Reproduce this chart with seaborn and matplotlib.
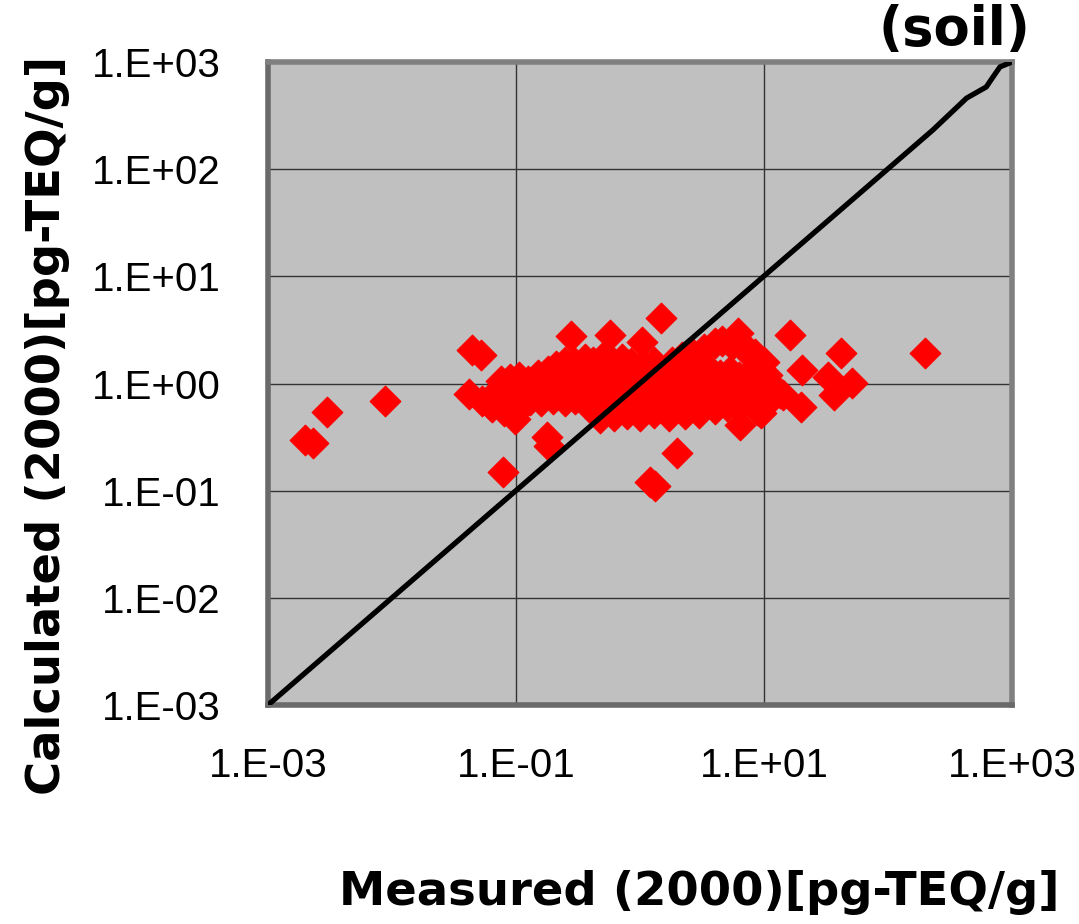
import matplotlib
matplotlib.use('Agg')
import numpy as np
import pandas as pd
import matplotlib.pyplot as plt
import seaborn as sns
from matplotlib import font_manager
from matplotlib.ticker import FixedLocator, FixedFormatter, NullLocator

# measured vs calculated (2000) [pg-TEQ/g]
measured = [
    # scattered points
    0.0020, 0.0023, 0.0030, 0.0088, 0.044, 0.052, 0.042, 0.053, 0.063, 0.078,
    0.178, 0.185, 0.28, 0.57, 1.04, 1.48, 1.20, 1.31, 2.0, 16.2,
    41.8, 20.2, 33, 51, 37, 20, 14.2, 199, 6.4, 8.8,
    13.5, 6.2, 8.0,
    # upper part of the main cloud
    0.21, 0.25, 0.30, 0.36, 0.42, 0.50, 0.60, 0.72, 0.85, 1.05, 1.3,
    1.8, 2.2, 2.7, 3.3, 4.0, 4.6, 5.5, 7.0, 8.5, 10.0,
    # middle
    0.075, 0.09, 0.105, 0.125, 0.15, 0.18, 0.21, 0.25, 0.30, 0.36,
    0.43, 0.52, 0.62, 0.75, 0.9, 1.08, 1.3, 1.55, 1.85, 2.2,
    2.6, 3.1, 3.7, 4.4, 5.3, 6.3, 7.5, 9.0, 10.5,
    0.07, 0.085, 0.10, 0.12, 0.14, 0.17, 0.20, 0.24, 0.28, 0.34,
    0.40, 0.48, 0.58, 0.70, 0.83, 1.0, 1.2, 1.4, 1.7, 2.0,
    2.4, 2.9, 3.5, 4.2, 5.0, 6.0, 7.2, 8.6, 10.0,
    # lower part
    0.064, 0.08, 0.098, 0.11, 0.13, 0.16, 0.20, 0.25, 0.30, 0.36,
    0.44, 0.54, 0.66, 0.80, 1.0, 1.25, 1.6, 2.0, 2.5, 3.2,
    4.0, 5.0, 6.3, 8.0, 9.8,
    0.48, 0.62, 0.78, 1.0, 1.3, 1.7, 2.3, 3.0, 9.5,
]
calculated = [
    0.30, 0.28, 0.54, 0.69, 2.06, 1.85, 0.80, 0.68, 0.62, 0.15,
    0.32, 0.26, 2.78, 2.84, 2.44, 4.09, 0.12, 0.11, 0.225, 2.84,
    1.93, 1.34, 1.15, 1.01, 0.78, 0.60, 0.78, 1.93, 0.41, 0.57,
    0.82, 2.96, 1.77,
    1.45, 1.6, 1.55, 1.7, 1.6, 1.75, 1.6, 1.7, 1.55, 1.5, 1.6,
    1.6, 1.75, 1.9, 2.1, 2.4, 2.5, 2.3, 2.2, 1.9, 1.6,
    1.05, 1.1, 1.15, 1.05, 1.2, 1.3, 1.15, 1.25, 1.1, 1.3,
    1.2, 1.25, 1.1, 1.3, 1.2, 1.25, 1.1, 1.3, 1.2, 1.25,
    1.3, 1.2, 1.35, 1.2, 1.3, 1.15, 1.25, 1.1, 1.2,
    0.85, 0.80, 0.90, 0.82, 0.88, 0.80, 0.90, 0.82, 0.88, 0.80,
    0.90, 0.84, 0.90, 0.80, 0.88, 0.82, 0.90, 0.80, 0.88, 0.80,
    0.90, 0.82, 0.88, 0.80, 0.90, 0.82, 0.88, 0.80, 0.90,
    0.60, 0.55, 0.47, 0.60, 0.70, 0.68, 0.72, 0.68, 0.72, 0.66,
    0.60, 0.65, 0.58, 0.62, 0.58, 0.62, 0.58, 0.62, 0.58, 0.62,
    0.58, 0.62, 0.60, 0.65, 0.60,
    0.48, 0.50, 0.52, 0.50, 0.53, 0.50, 0.52, 0.53, 0.53,
]

# 1:1 line (it wiggles a little near the top end)
line_x = [0.001, 230, 430, 620, 700, 800, 1000]
line_y = [0.001, 232, 460, 585, 720, 900, 1000]

xticks = [1e-3, 1e-1, 1e1, 1e3]
xtick_labels = ['1.E-03', '1.E-01', '1.E+01', '1.E+03']
yticks = [1e-3, 1e-2, 1e-1, 1e0, 1e1, 1e2, 1e3]
ytick_labels = ['1.E-03', '1.E-02', '1.E-01', '1.E+00', '1.E+01', '1.E+02', '1.E+03']

title = '(soil)'
xlabel = 'Measured (2000)[pg-TEQ/g]'
ylabel = 'Calculated (2000)[pg-TEQ/g]'

sns.set_style('white')
plt.rcParams['text.color'] = 'black'
plt.rcParams['axes.labelcolor'] = 'black'

# narrow bold font for the axis titles if we have it
try:
    font_manager.findfont('Liberation Sans Narrow:bold', fallback_to_default=False)
    bold_font, label_size, title_size = 'Liberation Sans Narrow', 48, 52
except ValueError:
    bold_font, label_size, title_size = 'DejaVu Sans', 33.5, 38
tick_font = 'Liberation Sans'

df = pd.DataFrame({'measured': measured, 'calculated': calculated})

fig = plt.figure(figsize=(10.79, 9.24), dpi=100)
ax = fig.add_axes([0.2484, 0.237, 0.6895, 0.6959])
ax.set_facecolor('#c0c0c0')

sns.scatterplot(data=df, x='measured', y='calculated', marker='D', color='red',
                s=245, edgecolor='red', linewidth=0.8, ax=ax, zorder=3, legend=False)
ax.plot(line_x, line_y, color='black', lw=3.8, zorder=4, solid_capstyle='round')

ax.set_xscale('log')
ax.set_yscale('log')
ax.set_xlim(1e-3, 1e3)
ax.set_ylim(1e-3, 1e3)

ax.xaxis.set_major_locator(FixedLocator(xticks))
ax.xaxis.set_major_formatter(FixedFormatter(xtick_labels))
ax.yaxis.set_major_locator(FixedLocator(yticks))
ax.yaxis.set_major_formatter(FixedFormatter(ytick_labels))
ax.xaxis.set_minor_locator(NullLocator())
ax.yaxis.set_minor_locator(NullLocator())

ax.grid(True, which='major', color='#333333', lw=1.0)
ax.set_axisbelow(True)
ax.tick_params(axis='both', direction='in', length=14, width=2, color='#404040',
               labelsize=29, labelcolor='black')
ax.tick_params(axis='y', pad=34)
ax.tick_params(axis='x', pad=30)
for lab in ax.get_xticklabels() + ax.get_yticklabels():
    lab.set_fontfamily(tick_font)

for side, sp in ax.spines.items():
    sp.set_visible(True)
    sp.set_linewidth(4)
    sp.set_color('#808080' if side in ('top', 'right') else '#6a6a6a')

ax.set_xlabel(xlabel, fontsize=label_size, fontweight='bold', family=bold_font, ha='left')
ax.xaxis.label.set_va('center')
ax.xaxis.set_label_coords(0.096, -0.292)

ax.set_ylabel(ylabel, fontsize=label_size, fontweight='bold', family=bold_font)
ax.yaxis.label.set_rotation_mode('default')
ax.yaxis.label.set_ha('center')
ax.yaxis.label.set_va('bottom')
ax.yaxis.set_label_coords(-0.296, -0.14)

fig.text(1030 / 1079, 1 - 4 / 924, title, ha='right', va='top',
         fontsize=title_size, fontweight='bold', family=bold_font)

fig.savefig('out.png', dpi=100)
